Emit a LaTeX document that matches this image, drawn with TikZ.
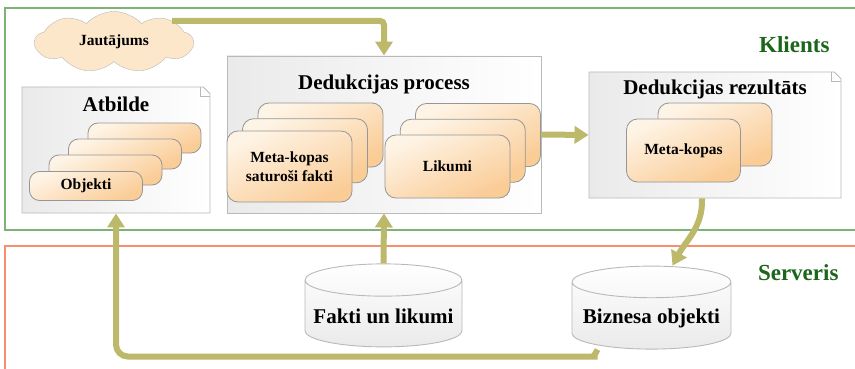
\documentclass[tikz,border=0pt]{standalone}
\usepackage{fontspec}
\setmainfont{Liberation Serif}
\usetikzlibrary{arrows.meta,shapes.misc,shapes.symbols,shapes.geometric}

\definecolor{klientline}{RGB}{126,178,118}
\definecolor{serverline}{RGB}{248,142,112}
\definecolor{zonetext}{RGB}{28,102,28}
\definecolor{flowcol}{RGB}{189,185,106}
\definecolor{boxline}{RGB}{185,185,185}
\definecolor{boxshade}{RGB}{234,234,234}
\definecolor{stackline}{RGB}{150,150,150}
\definecolor{stacklight}{RGB}{254,244,230}
\definecolor{stackdark}{RGB}{250,204,150}
\definecolor{cloudfill}{RGB}{252,231,203}

\newcommand{\titlefont}{\fontsize{21}{24}\selectfont\bfseries}
\newcommand{\itemfont}{\fontsize{15.5}{19.5}\selectfont\bfseries}
\newcommand{\zonefont}{\fontsize{23}{26}\selectfont\bfseries}

\begin{document}
\begin{tikzpicture}[x=1pt, y=1pt,
  zone/.style={line width=1.2pt},
  docbox/.style={draw=boxline, line width=0.9pt, left color=boxshade, right color=white},
  dogear/.style={docbox, chamfered rectangle, chamfered rectangle corners=north east,
                 chamfered rectangle xsep=10pt, chamfered rectangle ysep=10pt},
  stackbox/.style={draw=stackline, line width=0.8pt, rounded corners=11pt,
                   top color=stacklight, bottom color=stackdark, shading angle=25},
  boxtitle/.style={font=\titlefont, anchor=base},
  itemtext/.style={font=\itemfont, align=center},
  dbstore/.style={cylinder, shape border rotate=90, aspect=0.22, draw=boxline, line width=0.9pt,
                  top color=white, bottom color=boxshade, font=\titlefont},
  flow/.style={draw=flowcol, line width=6pt, -{Triangle[width=17pt,length=14pt]}},
]
    \useasboundingbox (0,0) rectangle (855,-369);
    % zones
    \draw [zone, klientline] (5,-8) rectangle (870,-230);
    \draw [zone, serverline] (5,-246) rectangle (870,-390);
    \node [font=\zonefont, text=zonetext, anchor=base east] (klients) at (833,-53) {Klients};
    \node [font=\zonefont, text=zonetext, anchor=base east] (serveris) at (842,-280) {Serveris};

    % question
    \node [cloud, cloud puffs=9, cloud puff arc=95, aspect=2, draw=boxline, fill=cloudfill,
           minimum width=158pt, minimum height=51pt, inner sep=0pt, font=\itemfont] (jaut) at (114,-42) {Jautājums};

    % answer
    \node [dogear, minimum width=188pt, minimum height=126pt] (atb) at (116,-150) {};
    \node [boxtitle] (atb-title) at (116,-112) {Atbilde};
    \foreach \i in {3,2,1}
        \node [stackbox, rounded corners=10pt, minimum width=113pt, minimum height=30pt]
              (obj-\i) at (86+19.5*\i, -186+16*\i) {};
    \node [stackbox, rounded corners=10pt, minimum width=113pt, minimum height=29pt, itemtext] (obj) at (86,-186) {Objekti};

    % deduction process
    \node [docbox, minimum width=314pt, minimum height=157pt] (process) at (384,-134.5) {};
    \node [boxtitle] (process-title) at (384,-90) {Dedukcijas process};
    \foreach \i in {2,1}
        \node [stackbox, minimum width=125pt, minimum height=64pt]
              (facts-\i) at (289.5+15.5*\i, -166.5+15.75*\i) {};
    \node [stackbox, minimum width=125pt, minimum height=71pt, itemtext] (facts) at (289.5,-166.5) {Meta-kopas\\saturoši fakti};
    \foreach \i in {2,1}
        \node [stackbox, minimum width=125pt, minimum height=63pt]
              (rules-\i) at (447.5+15.25*\i, -166.5+15.75*\i) {};
    \node [stackbox, minimum width=125pt, minimum height=63pt, itemtext] (rules) at (447.5,-166.5) {Likumi};

    % deduction result
    \node [dogear, minimum width=252pt, minimum height=126pt] (result) at (715,-135) {};
    \node [boxtitle] (result-title) at (715,-95) {Dedukcijas rezultāts};
    \node [stackbox, minimum width=114pt, minimum height=63pt] (meta-1) at (715,-134.5) {};
    \node [stackbox, minimum width=114pt, minimum height=63pt, itemtext] (meta) at (683.5,-150.5) {Meta-kopas};

    % folded corners
    \foreach \d in {atb,result} {
        \coordinate (\d-ear) at (\d.north -| \d.east);
        \draw [boxline, line width=0.8pt] ([xshift=-10pt]\d-ear) -- ([xshift=-10pt,yshift=-10pt]\d-ear)
              -- ([yshift=-10pt]\d-ear);
    }

    % stores
    \node [dbstore, minimum width=157pt, minimum height=83pt] (fakti) at (383.5,-316) {Fakti un likumi};
    \node [dbstore, minimum width=159pt, minimum height=83pt] (biz) at (651.5,-318) {Biznesa objekti};

    % flows
    \draw [flow, rounded corners=4pt] (jaut.20) -| (process.north);
    \draw [flow] (process.east) -- (result.west);
    \draw [flow] ([xshift=-13pt]result.south) to[out=-88,in=62] ([xshift=21pt]biz.north);
    \draw [flow] (fakti.north) -- (process.south);
    \draw [flow, rounded corners=12pt] ([xshift=-54pt]biz.south) to[out=-110,in=0]
          ([xshift=-66pt,yshift=-7pt]biz.south) -| (atb.south);
\end{tikzpicture}
\end{document}
